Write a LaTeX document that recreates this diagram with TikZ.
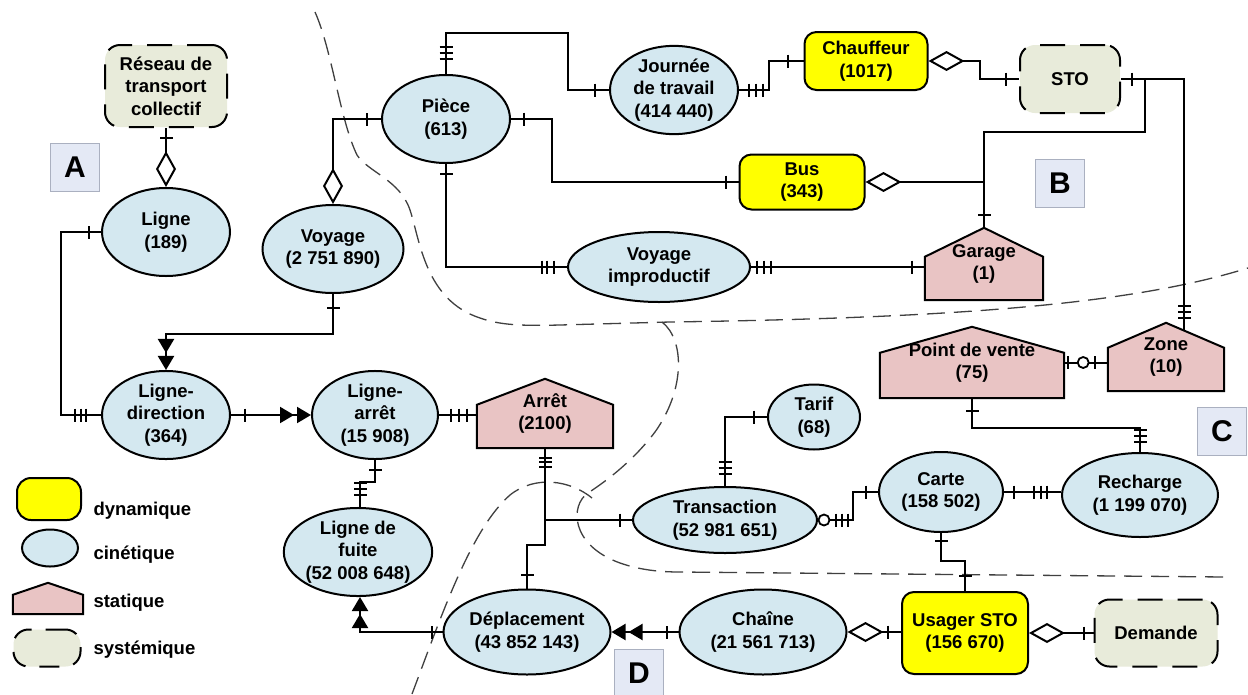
\documentclass[tikz,border=0pt]{standalone}
\usepackage{fontspec}
\setmainfont{Liberation Sans}
\usetikzlibrary{arrows.meta,shapes.geometric,decorations.markings,calc,backgrounds}
\definecolor{cinfill}{RGB}{212,232,240}
\definecolor{dynfill}{RGB}{255,255,0}
\definecolor{stafill}{RGB}{233,196,196}
\definecolor{sysfill}{RGB}{232,235,218}
\definecolor{lettfill}{RGB}{228,233,245}
\definecolor{lettdraw}{RGB}{170,176,192}
\newcommand\drawhouse[2]{\draw[housestyle] (#1.south west) -- (#1.south east) -- ($(#1.north east)+(0,#2)$) -- (#1.north) -- ($(#1.north west)+(0,#2)$) -- cycle;}
\begin{document}
\begin{tikzpicture}[x=1pt,y=-1pt,
  txt/.style={font=\fontsize{18.5}{22.5}\selectfont\bfseries, align=center, text=black},
  cin/.style={txt, ellipse, draw, line width=2pt, fill=cinfill, inner sep=0pt},
  dyn/.style={txt, rectangle, rounded corners=12pt, draw, line width=2pt, fill=dynfill, inner sep=0pt},
  sys/.style={txt, rectangle, rounded corners=15pt, draw, line width=2pt, fill=sysfill, dash pattern=on 25pt off 15pt, inner sep=0pt},
  sta/.style={txt, rectangle, inner sep=0pt},
  housestyle/.style={draw, line width=2pt, fill=stafill, line join=miter},
  lett/.style={rectangle, draw=lettdraw, line width=1pt, fill=lettfill, font=\fontsize{30}{30}\selectfont\bfseries, minimum width=49pt, minimum height=48pt, inner sep=0pt},
  conn/.style={line width=2pt, draw=black},
  region/.style={line width=1.3pt, draw=black!75, dash pattern=on 18pt off 9pt},
  tk/.style={postaction={decorate,decoration={markings,mark=at position #1 with {\draw[line width=2pt,-,solid] (0,-6.5)--(0,6.5);}}}},
  oo/.style={postaction={decorate,decoration={markings,mark=at position #1 with {\draw[line width=1.8pt,-,solid,fill=white] (0,0) circle (5.5);}}}},
  dmd/.tip={Diamond[length=36pt,width=20pt,fill=white]},
  dtri/.tip={Triangle[length=14pt,width=16pt,sep=3pt] Triangle[length=14pt,width=16pt]}
]
\useasboundingbox (0,0) rectangle (1248,694);

% region boundaries
\draw[region] (315,12) .. controls (332,50) and (340,120) .. (357,155)
  .. controls (368,172) and (400,180) .. (410,210)
  .. controls (420,240) and (425,300) .. (480,318)
  .. controls (500,325) and (520,326) .. (560,325)
  -- (670,322) .. controls (950,318) and (1130,305) .. (1248,268);
\draw[region] (662,322) .. controls (685,340) and (685,390) .. (655,432)
  .. controls (630,465) and (600,485) .. (588,493)
  .. controls (570,505) and (570,545) .. (620,563)
  .. controls (640,570) and (660,572) .. (680,572) -- (1225,577);
\draw[region] (412,694) .. controls (440,620) and (470,530) .. (510,495)
  .. controls (535,475) and (570,480) .. (592,498);

% nodes
\node[sys, minimum width=122pt, minimum height=82pt] (reseau) at (166,86) {Réseau de\\transport\\collectif};
\node[lett] (la) at (75,167) {A};
\node[cin, minimum width=128pt, minimum height=88pt] (ligne) at (166,232) {Ligne\\(189)};
\node[cin, minimum width=141pt, minimum height=88pt] (voyage) at (333,249) {Voyage\\(2 751 890)};
\node[cin, minimum width=128pt, minimum height=88pt] (piece) at (446,119) {Pièce\\(613)};
\node[cin, minimum width=128pt, minimum height=86pt] (journee) at (674,90) {Journée\\de travail\\(414 440)};
\node[dyn, minimum width=123pt, minimum height=58pt] (chauffeur) at (866,61) {Chauffeur\\(1017)};
\node[sys, minimum width=100pt, minimum height=68pt] (sto) at (1070,79) {STO};
\node[dyn, minimum width=125pt, minimum height=55pt] (bus) at (802,182) {Bus\\(343)};
\node[lett] (lb) at (1060,183) {B};
\node[cin, minimum width=182pt, minimum height=70pt] (vimp) at (659,267) {Voyage\\improductif};
\node[sta, minimum width=118pt, minimum height=72pt] (garage) at (984,264) {Garage\\(1)};
\node[cin, minimum width=128pt, minimum height=88pt] (lignedir) at (166,415) {Ligne-\\direction\\(364)};
\node[cin, minimum width=126pt, minimum height=86pt] (lignearret) at (375,415) {Ligne-\\arrêt\\(15 908)};
\node[sta, minimum width=136pt, minimum height=69pt] (arret) at (545,413.5) {Arrêt\\(2100)};
\node[sta, minimum width=184pt, minimum height=71pt] (pdv) at (972,362.5) {Point de vente\\(75)};
\node[sta, minimum width=116pt, minimum height=68pt] (zone) at (1166,357) {Zone\\(10)};
\node[lett] (lc) at (1222,431) {C};
\node[cin, minimum width=92pt, minimum height=65pt] (tarif) at (814,417) {Tarif\\(68)};
\node[cin, minimum width=145pt, minimum height=88pt] (lignefuite) at (358,552) {Ligne de\\fuite\\(52 008 648)};
\node[cin, minimum width=184pt, minimum height=66pt] (transaction) at (725,520) {Transaction\\(52 981 651)};
\node[cin, minimum width=124pt, minimum height=80pt] (carte) at (941,492) {Carte\\(158 502)};
\node[cin, minimum width=156pt, minimum height=84pt] (recharge) at (1140,495) {Recharge\\(1 199 070)};
\node[cin, minimum width=167pt, minimum height=85pt] (deplacement) at (527,632) {Déplacement\\(43 852 143)};
\node[cin, minimum width=167pt, minimum height=85pt] (chaine) at (763,632) {Chaîne\\(21 561 713)};
\node[lett] (ld) at (639,673) {D};
\node[dyn, minimum width=126pt, minimum height=82pt] (usager) at (965,633) {Usager STO\\(156 670)};
\node[sys, minimum width=123pt, minimum height=67pt] (demande) at (1156,633) {Demande};

% legend
\node[dyn, minimum width=64pt, minimum height=42pt, rounded corners=14pt] (ldyn) at (49,499) {};
\node[cin, minimum width=56pt, minimum height=37pt] (lcin) at (50,548) {};
\node[sta, minimum width=70pt, minimum height=31pt] (lsta) at (48,598.5) {};
\node[sys, minimum width=67pt, minimum height=37pt, dash pattern=on 20pt off 14pt] (lsys) at (47,648) {};
\node[txt, anchor=base west] (tdyn) at (90,515) {dynamique};
\node[txt, anchor=base west] (tcin) at (90,559) {cinétique};
\node[txt, anchor=base west] (tsta) at (90,607) {statique};
\node[txt, anchor=base west] (tsys) at (90,654) {systémique};

% houses on background
\begin{scope}[on background layer]
\fill[white] (0,0) rectangle (1248,694);
\drawhouse{garage}{29}
\drawhouse{arret}{26}
\drawhouse{pdv}{26}
\drawhouse{zone}{25}
\drawhouse{lsta}{12}
\end{scope}

\coordinate (zoneroof) at (1184,331);
\coordinate (stoj) at (1145,79);

% connectors
\draw[conn, -{dmd}, tk=10pt] (reseau.south) -- (ligne.north);
\draw[conn, -{dmd}, tk=14pt] (piece.west) -| (voyage.north);
\draw[conn, -{dtri}, tk=14pt] (voyage.south) -- ++(0,40) -| (lignedir.north);
\draw[conn, tk=12pt, tk=-15pt, tk=-20pt, tk=-26pt] (ligne.west) -- ++(-40,0) |- (lignedir.west);
\draw[conn, -{dtri}, tk=14pt] (lignedir.east) -- (lignearret.west);
\draw[conn, tk=12pt, tk=20pt, tk=28pt] (lignearret.east) -- (lignearret.east -| arret.west);
\draw[conn, tk=10pt, tk=-12pt, tk=-18pt, tk=-24pt] (lignearret.south) -- ++(0,22) -| ($(lignefuite.north)+(2,0)$);
\draw[conn, -{dtri}, tk=11pt] (deplacement.west) -| ($(lignefuite.south)+(2,0)$);
\draw[conn, tk=10pt, tk=14pt, tk=19pt, tk=-14pt] (arret.south) -- ++(0,97) -| (deplacement.north);
\draw[conn, tk=-12pt] (arret.south |- transaction.west) -- (transaction.west);
\draw[conn, tk=12pt, tk=18pt, tk=24pt, tk=-13pt] (transaction.north) |- (tarif.west);
\draw[conn, oo=6pt, tk=18pt, tk=24pt, tk=30pt, tk=-12pt] (transaction.east) -- ++(35,0) |- (carte.west);
\draw[conn, tk=10pt, tk=-14pt, tk=-20pt, tk=-27pt] (carte.east) -- (carte.east -| recharge.west);
\draw[conn, tk=8pt, tk=-15pt] (carte.south) -- ++(0,28) -| (usager.north);
\draw[conn, {dmd}-, tk=-13pt] (chaine.east) -- (chaine.east -| usager.west);
\draw[conn, -{dtri}, tk=12pt] (chaine.west) -- (deplacement.east);
\draw[conn, {dmd}-, tk=-10pt] (usager.east) -- (usager.east -| demande.west);
\draw[conn, {dmd}-, tk=-13pt] (chauffeur.east) -- ++(51,0) |- (sto.west);
\draw[conn, tk=10pt, tk=17pt, tk=24pt, tk=-16pt] (journee.east) -- ++(30,0) |- (chauffeur.west);
\draw[conn, tk=15pt, tk=21pt, tk=27pt, tk=-14pt] (piece.north) |- (568,33) |- (journee.west);
\draw[conn, tk=13pt, tk=-13pt] (piece.east) -- ++(41,0) |- (bus.west);
\draw[conn, tk=10pt, tk=-13pt, tk=-20pt, tk=-25pt] (piece.south) |- (vimp.west);
\draw[conn, tk=6pt, tk=13pt, tk=20pt, tk=-13pt] (vimp.east) -- (vimp.east -| garage.west);
\draw[conn, tk=11pt, tk=-13pt, tk=-19pt, tk=-25pt] (sto.east) -| (zoneroof);
\draw[conn, tk=-13pt] (stoj) -- ++(0,53) -| (garage.north);
\draw[conn, {dmd}-] (bus.east) -- (bus.east -| garage.north);
\draw[conn, tk=4pt, oo=19pt, tk=31pt] (pdv.east) -- (pdv.east -| zone.west);
\draw[conn, tk=13pt, tk=-10pt, tk=-16pt, tk=-22pt] (pdv.south) -- ++(0,30) -| (recharge.north);
\end{tikzpicture}
\end{document}
